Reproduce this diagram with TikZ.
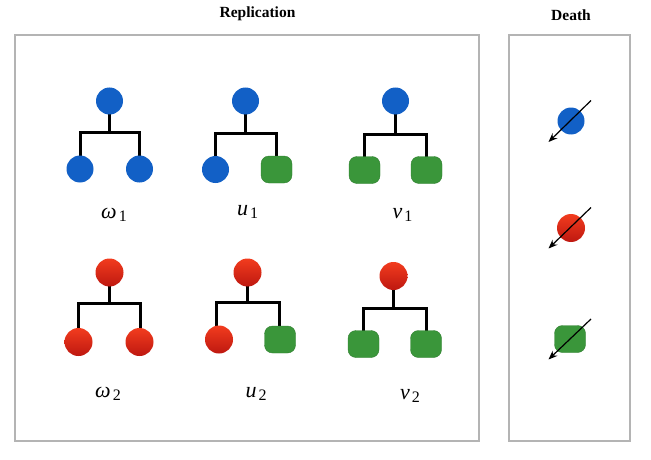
\documentclass[tikz,border=0pt]{standalone}
\usepackage{fontspec}
\setmainfont{Liberation Serif}
\usetikzlibrary{arrows.meta}
\definecolor{cblue}{HTML}{1260C6}
\definecolor{credtop}{HTML}{F23C1E}
\definecolor{credbot}{HTML}{BE1810}
\definecolor{cgreen}{HTML}{3A963A}
\definecolor{cframe}{HTML}{B4B4B4}
\newcommand{\lab}[2]{{\fontsize{22}{24}\selectfont\itshape #1}\kern2pt\raisebox{-3.2pt}{\fontsize{16}{18}\selectfont #2}}
\tikzset{
  panel/.style={draw=cframe,line width=1.3pt},
  title/.style={font=\bfseries\fontsize{15.5}{17}\selectfont,anchor=base},
  lbl/.style={anchor=base,inner sep=0},
  bnode/.style={circle,fill=cblue,minimum size=27pt,inner sep=0},
  rnode/.style={circle,top color=credtop,bottom color=credbot,minimum size=28pt,inner sep=0},
  gnode/.style={rectangle,rounded corners=8pt,fill=cgreen,draw=cgreen!85!black,line width=0.4pt,minimum width=31pt,minimum height=27pt,inner sep=0},
  branch/.style={line width=3pt,black,line join=miter},
  kill/.style={line width=1.2pt,black,-{Stealth[length=9pt,width=7pt]}},
}
\begin{document}
\begin{tikzpicture}[x=1pt,y=-1pt]
\useasboundingbox (0,0) rectangle (651,460);
% panels
\draw[panel] (15,35) rectangle (479,441);
\draw[panel] (509,35) rectangle (630,441);
\node[title] (tR) at (257.5,17.3) {Replication};
\node[title] (tD) at (571,20.7) {Death};

% ---------- Row 1 ----------
% omega1
\coordinate (b11) at (109.5,132.5);
\draw[branch] (80,169) |- (b11) -| (139.5,169);
\draw[branch] (109.5,101) -- (b11);
\node[bnode] (t11) at (109.5,101) {};
\node[bnode] (l11) at (80,169) {};
\node[bnode] (r11) at (139.5,169) {};
\node[lbl] (w1) at (114,218) {\lab{ω}{1}};
% u1
\coordinate (b12) at (245.5,133);
\draw[branch] (215,169.5) |- (b12) -| (276.5,169.5);
\draw[branch] (245.5,101) -- (b12);
\node[bnode] (t12) at (245.5,101) {};
\node[bnode] (l12) at (215.5,169.5) {};
\node[gnode] (r12) at (276.5,169.5) {};
\node[lbl] (u1) at (247.5,215) {\lab{u}{1}};
% v1
\coordinate (b13) at (395.5,134);
\draw[branch] (364.5,170) |- (b13) -| (426.5,170);
\draw[branch] (395.5,101) -- (b13);
\node[bnode] (t13) at (395.5,101) {};
\node[gnode] (l13) at (364.5,170) {};
\node[gnode] (r13) at (426.5,170) {};
\node[lbl] (v1) at (402.5,218) {\lab{v}{1}};

% ---------- Row 2 ----------
% omega2
\coordinate (b21) at (109.5,303.5);
\draw[branch] (78.5,342) |- (b21) -| (140,342);
\draw[branch] (109.5,272.5) -- (b21);
\node[rnode] (t21) at (109.5,272.5) {};
\node[rnode] (l21) at (78.5,342) {};
\node[rnode] (r21) at (139.5,342) {};
\node[lbl] (w2) at (108,397) {\lab{ω}{2}};
% u2
\coordinate (b22) at (247.5,302.5);
\draw[branch] (216,339.5) |- (b22) -| (279.5,339.5);
\draw[branch] (247.5,272.5) -- (b22);
\node[rnode] (t22) at (247.5,272.5) {};
\node[rnode] (l22) at (219,339.5) {};
\node[gnode] (r22) at (280,339.5) {};
\node[lbl] (u2) at (256,397) {\lab{u}{2}};
% v2
\coordinate (b23) at (393.5,308.5);
\draw[branch] (363.5,344) |- (b23) -| (426,344);
\draw[branch] (393.5,276) -- (b23);
\node[rnode] (t23) at (393.5,276) {};
\node[gnode] (l23) at (363.5,344) {};
\node[gnode] (r23) at (426,344) {};
\node[lbl] (v2) at (410,399) {\lab{v}{2}};

% ---------- Death ----------
\node[bnode] (d1) at (571,121) {};
\node[rnode] (d2) at (571,228) {};
\node[gnode] (d3) at (570,339) {};
\coordinate (d1s) at (591,100.5);
\coordinate (d1e) at (548.5,142);
\coordinate (d2s) at (591,207.5);
\coordinate (d2e) at (548.5,248.5);
\coordinate (d3s) at (591,319);
\coordinate (d3e) at (548.5,359.5);
\draw[kill] (d1s) -- (d1e);
\draw[kill] (d2s) -- (d2e);
\draw[kill] (d3s) -- (d3e);
\end{tikzpicture}
\end{document}
